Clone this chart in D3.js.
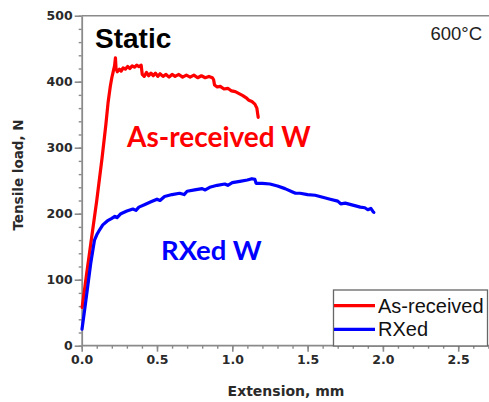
<!DOCTYPE html>
<html>
<head>
<meta charset="utf-8">
<script src="https://cdn.jsdelivr.net/npm/d3@7"></script>
<style>
  html, body { margin: 0; padding: 0; background: #fff; }
  svg { display: block; overflow: hidden; }
</style>
</head>
<body>
<svg id="chart" width="489" height="402"></svg>
<script>
// Static tensile load–extension curves of tungsten at 600 °C
const seriesNames = ["As-received", "RXed"];
const seriesColors = ["#ff0000", "#0000ff"];

// As-received W: [extension mm, load N]
const asReceived = [
  [0.003, 58], [0.03, 104], [0.06, 154], [0.1, 220], [0.135, 284], [0.16, 334],
  [0.175, 368], [0.19, 393], [0.2, 406], [0.21, 416], [0.218, 424], [0.224, 436],
  [0.228, 420], [0.236, 415], [0.25, 419], [0.262, 416], [0.275, 421], [0.29, 419],
  [0.305, 423], [0.32, 420], [0.335, 424], [0.35, 422], [0.365, 425], [0.38, 423],
  [0.395, 425], [0.402, 411], [0.415, 408], [0.43, 414], [0.445, 409], [0.46, 413],
  [0.475, 409], [0.49, 413], [0.505, 408], [0.52, 412], [0.54, 408], [0.56, 411],
  [0.58, 407], [0.6, 411], [0.62, 408], [0.645, 411], [0.67, 407], [0.695, 410],
  [0.72, 407], [0.745, 410], [0.77, 406], [0.795, 409], [0.82, 406], [0.845, 408],
  [0.868, 406], [0.876, 403], [0.882, 395], [0.9, 392], [0.92, 393], [0.945, 389],
  [0.97, 390], [0.995, 386], [1.02, 385], [1.045, 382], [1.07, 379], [1.09, 376],
  [1.11, 372], [1.13, 370], [1.15, 366], [1.163, 360], [1.168, 352], [1.172, 346]
];

// RXed W: [extension mm, load N]
const rxed = [
  [0.002, 25], [0.02, 55], [0.04, 90], [0.06, 125], [0.085, 160], [0.1, 168],
  [0.12, 176], [0.14, 183], [0.17, 189], [0.2, 193], [0.22, 196], [0.235, 194],
  [0.26, 200], [0.3, 204], [0.34, 207], [0.36, 205], [0.38, 210], [0.42, 214],
  [0.46, 218], [0.5, 222], [0.52, 220], [0.55, 226], [0.6, 229], [0.65, 231],
  [0.68, 229], [0.7, 234], [0.75, 236], [0.8, 238], [0.82, 236], [0.85, 240],
  [0.9, 243], [0.95, 245], [0.97, 243], [1.0, 247], [1.05, 249], [1.1, 251],
  [1.13, 253], [1.15, 252], [1.158, 246], [1.2, 246], [1.25, 245], [1.3, 242],
  [1.35, 238], [1.4, 233], [1.42, 231], [1.45, 231], [1.5, 229], [1.55, 228],
  [1.6, 225], [1.65, 222], [1.7, 219], [1.72, 215], [1.75, 216], [1.8, 213],
  [1.85, 210], [1.88, 209], [1.9, 206], [1.92, 208], [1.935, 203], [1.94, 202]
];

const xTicks = [0, 0.5, 1.0, 1.5, 2.0, 2.5];
const yTicks = [0, 100, 200, 300, 400, 500];
const xMinorTicks = d3.range(0, 2.75, 0.1);
const yMinorTicks = d3.range(0, 501, 20);

const svg = d3.select("#chart");
const axisColor = "#8a8a8a";
const labelColor = "#2a2a2a";

const x = d3.scaleLinear().domain([0, 3.0]).range([81.7, 533.5]);
const y = d3.scaleLinear().domain([0, 500]).range([345.7, 15.7]);

// frame (top edge and right side run past the visible area)
svg.append("line")
  .attr("x1", x(0)).attr("x2", x(3.0))
  .attr("y1", y(500)).attr("y2", y(500))
  .attr("stroke", axisColor).attr("stroke-width", 1.6);

// minor ticks
svg.append("g")
  .attr("transform", `translate(0,${y(0)})`)
  .call(d3.axisBottom(x).tickValues(xMinorTicks).tickSize(3).tickFormat(""))
  .call(g => g.select(".domain").remove())
  .call(g => g.selectAll("line").attr("stroke", axisColor).attr("stroke-width", 1.4));
svg.append("g")
  .attr("transform", `translate(${x(0)},0)`)
  .call(d3.axisLeft(y).tickValues(yMinorTicks).tickSize(3).tickFormat(""))
  .call(g => g.select(".domain").remove())
  .call(g => g.selectAll("line").attr("stroke", axisColor).attr("stroke-width", 1.4));

// major axes
const xAxis = svg.append("g")
  .attr("transform", `translate(0,${y(0)})`)
  .call(d3.axisBottom(x).tickValues(xTicks).tickSize(6).tickSizeOuter(0)
    .tickFormat(d3.format(".1f")));
const yAxis = svg.append("g")
  .attr("transform", `translate(${x(0)},0)`)
  .call(d3.axisLeft(y).tickValues(yTicks).tickSize(7).tickSizeOuter(0)
    .tickFormat(d3.format("d")));

[xAxis, yAxis].forEach(a => {
  a.select(".domain").attr("stroke", axisColor).attr("stroke-width", 1.8);
  a.selectAll(".tick line").attr("stroke", axisColor).attr("stroke-width", 1.6);
  a.selectAll(".tick text")
    .attr("fill", labelColor)
    .style("font-family", "'DejaVu Sans', sans-serif")
    .style("font-weight", "bold")
    .style("font-size", "12.5px");
});
xAxis.select(".domain").attr("d", `M${x(0)},0H${x(3.0)}`);
xAxis.selectAll(".tick text").attr("dy", "0.95em").attr("y", 6);
yAxis.selectAll(".tick text").attr("x", -9);

// axis titles
svg.append("text")
  .attr("x", 286).attr("y", 396)
  .attr("text-anchor", "middle")
  .attr("fill", labelColor)
  .style("font-family", "'DejaVu Sans', sans-serif")
  .style("font-weight", "bold").style("font-size", "14px")
  .text("Extension, mm");
svg.append("text")
  .attr("transform", "translate(23,175) rotate(-90)")
  .attr("text-anchor", "middle")
  .attr("fill", labelColor)
  .style("font-family", "'DejaVu Sans', sans-serif")
  .style("font-weight", "bold").style("font-size", "13.5px")
  .text("Tensile load, N");

// curves
const line = d3.line().x(d => x(d[0])).y(d => y(d[1]));
[asReceived, rxed].forEach((data, i) => {
  svg.append("path")
    .datum(data)
    .attr("d", line)
    .attr("fill", "none")
    .attr("stroke", seriesColors[i])
    .attr("stroke-width", 3.2)
    .attr("stroke-linejoin", "round")
    .attr("stroke-linecap", "round");
});

// annotations
svg.append("text")
  .attr("x", 95).attr("y", 48)
  .style("font-family", "'Liberation Sans', Arial, sans-serif")
  .style("font-weight", "bold").style("font-size", "28px")
  .attr("fill", "#000")
  .text("Static");
svg.append("text")
  .attr("x", 482).attr("y", 40)
  .attr("text-anchor", "end")
  .style("font-family", "'Liberation Sans', Arial, sans-serif")
  .style("font-size", "18.5px")
  .attr("fill", "#222")
  .text("600°C");
svg.append("text")
  .attr("x", 127).attr("y", 147)
  .style("font-family", "Lato, 'Open Sans', sans-serif")
  .style("font-weight", "bold").style("font-size", "28px")
  .attr("fill", seriesColors[0])
  .text("As-received W");
svg.append("text")
  .attr("x", 161).attr("y", 260)
  .style("font-family", "Lato, 'Open Sans', sans-serif")
  .style("font-weight", "bold").style("font-size", "27.5px")
  .attr("fill", seriesColors[1])
  .text("RXed W");

// legend
const legend = svg.append("g");
legend.append("rect")
  .attr("x", 333.5).attr("y", 290)
  .attr("width", 154).attr("height", 56)
  .attr("fill", "#fff")
  .attr("stroke", "#666").attr("stroke-width", 1.3);
seriesNames.forEach((name, i) => {
  const ly = 305.7 + i * 23.6;
  legend.append("line")
    .attr("x1", 334).attr("x2", 375)
    .attr("y1", ly).attr("y2", ly)
    .attr("stroke", seriesColors[i]).attr("stroke-width", 3.2);
  legend.append("text")
    .attr("x", 378).attr("y", ly + 7)
    .style("font-family", "'Liberation Sans', Arial, sans-serif")
    .style("font-size", "20px")
    .attr("fill", "#111")
    .text(name);
});
</script>
</body>
</html>
